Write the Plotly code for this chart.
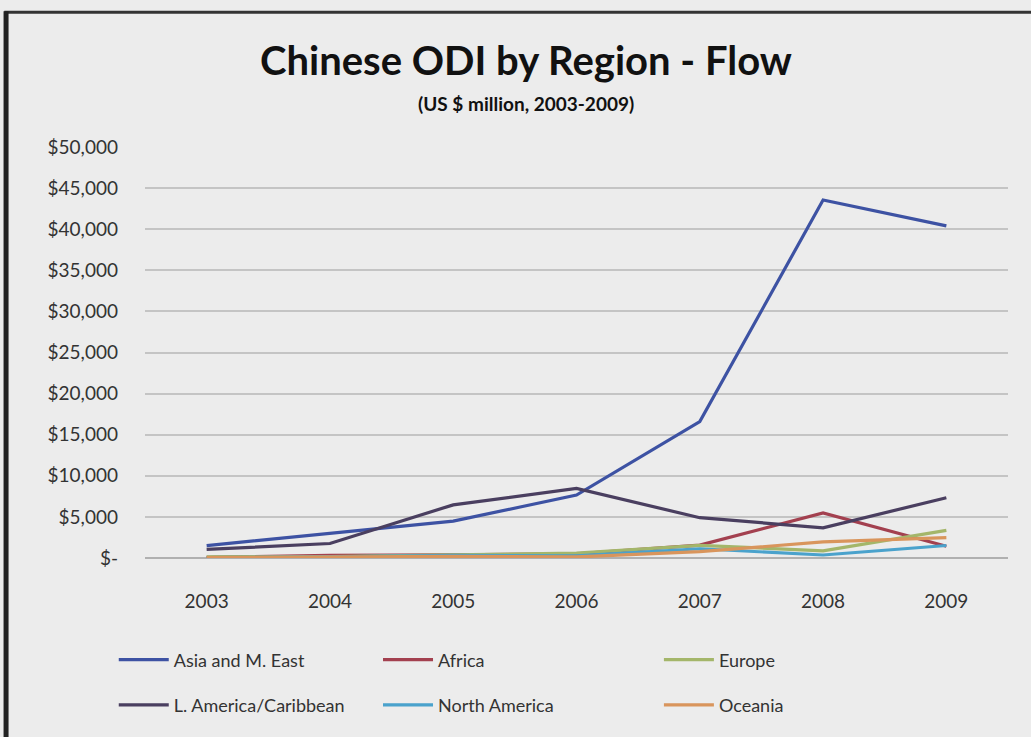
import plotly.graph_objects as go

years = ["2003", "2004", "2005", "2006", "2007", "2008", "2009"]
asia = [1505, 3000, 4484, 7663, 16593, 43548, 40408]
africa = [75, 317, 392, 520, 1574, 5491, 1439]
europe = [145, 171, 395, 598, 1540, 876, 3353]
latam = [1038, 1763, 6466, 8469, 4902, 3677, 7328]
namerica = [58, 126, 321, 258, 1126, 364, 1522]
oceania = [34, 120, 203, 126, 770, 1952, 2480]

ytick_vals = [0, 5000, 10000, 15000, 20000, 25000, 30000, 35000, 40000, 45000, 50000]
ytick_text = ["$-", "$5,000", "$10,000", "$15,000", "$20,000", "$25,000",
              "$30,000", "$35,000", "$40,000", "$45,000", "$50,000"]

# (name, values, colour, legend id)
series = [
    ("Asia and M. East", asia, "#3d52a3", "legend"),
    ("Africa", africa, "#a3404f", "legend2"),
    ("Europe", europe, "#a4b66a", "legend3"),
    ("L. America/Caribbean", latam, "#4a3f60", "legend4"),
    ("North America", namerica, "#4aa2cc", "legend5"),
    ("Oceania", oceania, "#d9955c", "legend6"),
]

FONT = "Lato"
TXT = "#333333"

fig = go.Figure()
for name, vals, col, lg in series:
    fig.add_trace(go.Scatter(x=years, y=vals, name=name, mode="lines",
                             line=dict(color=col, width=3.2), legend=lg))

def leg(x, y):
    return dict(orientation="h", x=x, y=y, xanchor="left", yanchor="middle",
                font=dict(family=FONT, size=18, color=TXT),
                bgcolor="rgba(0,0,0,0)", itemwidth=50)

row1, row2 = -0.248, -0.358
c1, c2, c3 = -0.0362, 0.2700, 0.5955

fig.update_layout(
    width=1031, height=737,
    margin=dict(l=145, r=23, t=147, b=179),
    paper_bgcolor="#ececec", plot_bgcolor="#ececec",
    font=dict(family=FONT, size=18, color=TXT),
    showlegend=True,
    legend=leg(c1, row1), legend2=leg(c2, row1), legend3=leg(c3, row1),
    legend4=leg(c1, row2), legend5=leg(c2, row2), legend6=leg(c3, row2),
    xaxis=dict(type="category", range=[-0.5, 6.5], showgrid=False, ticks="",
               showline=False, tickfont=dict(size=19), ticklabelstandoff=30),
    yaxis=dict(range=[0, 50000], tickvals=ytick_vals, ticktext=ytick_text,
               showgrid=True, gridcolor="#c4c4c4", gridwidth=1.5,
               zeroline=True, zerolinecolor="#b0b0b0", zerolinewidth=1.5,
               ticks="", tickfont=dict(size=19), ticklabelstandoff=26),
    annotations=[
        dict(text="<b>Chinese ODI by Region - Flow</b>", xref="paper", yref="paper",
             x=0.441, y=1.0, yshift=87, xanchor="center", yanchor="middle",
             showarrow=False, font=dict(family=FONT, size=40, color="#111111")),
        dict(text="<b>(US $ million, 2003-2009)</b>", xref="paper", yref="paper",
             x=0.441, y=1.0, yshift=44, xanchor="center", yanchor="middle",
             showarrow=False, font=dict(family=FONT, size=19, color="#111111")),
    ],
    shapes=[
        dict(type="line", xref="paper", yref="paper", x0=-0.163, x1=1.03,
             y0=1.328, y1=1.328, line=dict(color="#333333", width=3)),
        dict(type="line", xref="paper", yref="paper", x0=-0.161, x1=-0.161,
             y0=1.33, y1=-0.45, line=dict(color="#222222", width=5)),
    ],
)

fig.write_html("out.html", config={"displayModeBar": False},
               post_script="document.body.style.margin='0px';")
